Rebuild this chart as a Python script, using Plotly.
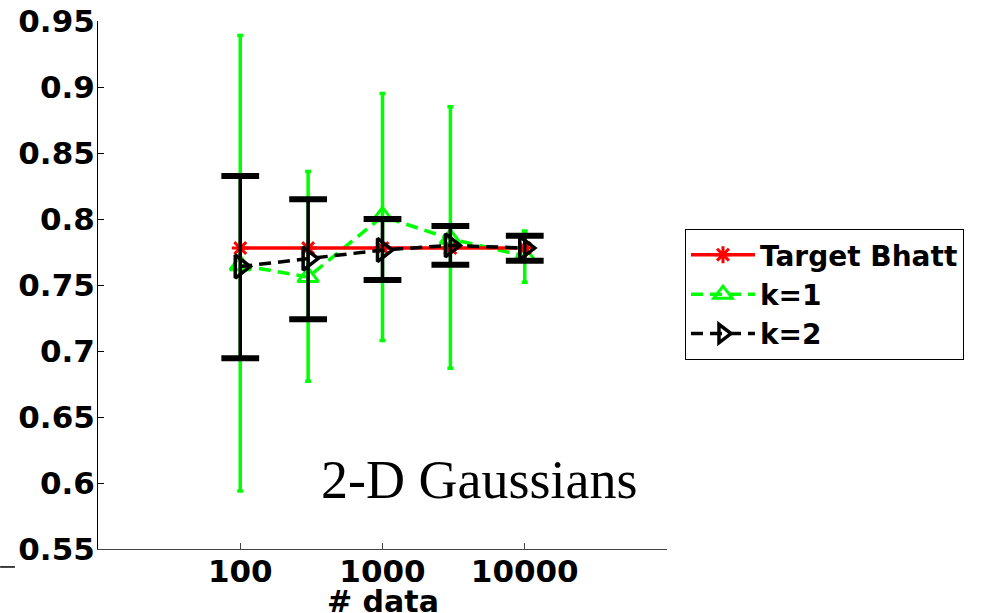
import plotly.graph_objects as go

n_data = [100, 300, 1000, 3000, 10000]
target_bhatt = [0.778, 0.778, 0.778, 0.778, 0.778]

k1_mean = [0.765, 0.756, 0.802, 0.785, 0.772]
k1_upper = [0.939, 0.836, 0.895, 0.885, 0.791]
k1_lower = [0.594, 0.677, 0.708, 0.687, 0.752]

k2_mean = [0.764, 0.770, 0.7765, 0.780, 0.778]
k2_upper = [0.8326, 0.815, 0.800, 0.7947, 0.7874]
k2_lower = [0.6945, 0.724, 0.7538, 0.7654, 0.7684]

x_ticks = [100, 1000, 10000]
x_tick_labels = ["100", "1000", "10000"]
y_ticks = [0.55, 0.6, 0.65, 0.7, 0.75, 0.8, 0.85, 0.9, 0.95]
y_tick_labels = ["0.55", "0.6", "0.65", "0.7", "0.75", "0.8", "0.85", "0.9", "0.95"]

GREEN = "#00ff00"
RED = "#ff0000"
BLACK = "#000000"
FONT = "DejaVu Sans"

fig = go.Figure()

# k=1 (green)
fig.add_trace(go.Scatter(
    x=n_data, y=k1_mean, name="k=1", mode="lines+markers", legendrank=2,
    line=dict(color=GREEN, width=3.5, dash="12px,7px"),
    marker=dict(symbol="triangle-up-open", size=18, color=GREEN, line=dict(width=3, color=GREEN)),
    error_y=dict(type="data", symmetric=False,
                 array=[u - m for u, m in zip(k1_upper, k1_mean)],
                 arrayminus=[m - l for m, l in zip(k1_mean, k1_lower)],
                 color=GREEN, thickness=3.5, width=3),
))

# Target
fig.add_trace(go.Scatter(
    x=n_data, y=target_bhatt, name="Target Bhatt", mode="lines+markers", legendrank=1,
    line=dict(color=RED, width=3.5),
    marker=dict(symbol="asterisk-open", size=14, color=RED, line=dict(width=3, color=RED)),
))

# k=2 (black)
fig.add_trace(go.Scatter(
    x=n_data, y=k2_mean, name="k=2", mode="lines+markers", legendrank=3,
    line=dict(color=BLACK, width=3.5, dash="12px,7px"),
    marker=dict(symbol="triangle-right-open", size=20, color=BLACK, line=dict(width=3.5, color=BLACK)),
    error_y=dict(type="data", symmetric=False,
                 array=[u - m for u, m in zip(k2_upper, k2_mean)],
                 arrayminus=[m - l for m, l in zip(k2_mean, k2_lower)],
                 color=BLACK, thickness=3.5, width=0),
))

# thick caps for k=2 error bars
fig.add_trace(go.Scatter(
    x=n_data + n_data, y=k2_upper + k2_lower, mode="markers", showlegend=False,
    hoverinfo="skip",
    marker=dict(symbol="line-ew-open", size=27, color=BLACK, line=dict(width=6, color=BLACK)),
))

fig.update_layout(
    width=985, height=613,
    margin=dict(l=98, r=318, t=21, b=64),
    plot_bgcolor="white", paper_bgcolor="white",
    showlegend=True,
    legend=dict(
        x=1.0316, y=0.606, xanchor="left", yanchor="top",
        bordercolor=BLACK, borderwidth=1, bgcolor="white",
        font=dict(family=FONT, size=28, color=BLACK, weight="bold"),
        tracegroupgap=0, itemwidth=64,
    ),
    font=dict(family=FONT, color=BLACK),
)

fig.update_xaxes(
    type="log", range=[1, 5], automargin=False,
    tickvals=x_ticks, ticktext=x_tick_labels,
    showline=True, linecolor="#444444", linewidth=1,
    ticks="inside", ticklen=6, tickcolor="#444444",
    showgrid=False, zeroline=False,
    tickfont=dict(family=FONT, size=31, color=BLACK, weight="bold"),
    ticklabelstandoff=-5,
)
fig.update_yaxes(
    range=[0.55, 0.95], automargin=False,
    tickvals=y_ticks, ticktext=y_tick_labels,
    showline=True, linecolor=BLACK, linewidth=1,
    ticks="inside", ticklen=6, tickcolor=BLACK,
    showgrid=False, zeroline=False,
    tickfont=dict(family=FONT, size=31, color=BLACK, weight="bold"),
    ticklabelstandoff=-4, ticklabeloverflow="allow",
)

# x-axis title (placed as in the reference, partly below the page edge)
fig.add_annotation(
    text="# data", xref="paper", yref="paper", x=0.5, y=0,
    xanchor="center", yanchor="middle", yshift=-52, showarrow=False,
    font=dict(family=FONT, size=30, color=BLACK, weight="bold"),
)

fig.add_annotation(
    text="2-D Gaussians", xref="paper", yref="paper", x=0.67, y=0.131,
    showarrow=False, xanchor="center", yanchor="middle",
    font=dict(family="Liberation Serif", size=54, color=BLACK),
)

fig.add_shape(type="line", xref="paper", yref="paper",
              x0=-0.172, x1=-0.146, y0=-0.034, y1=-0.034,
              line=dict(color=BLACK, width=1.5))

fig.write_html("out.html", post_script="document.body.style.margin='0';",
               config={"displayModeBar": False})
